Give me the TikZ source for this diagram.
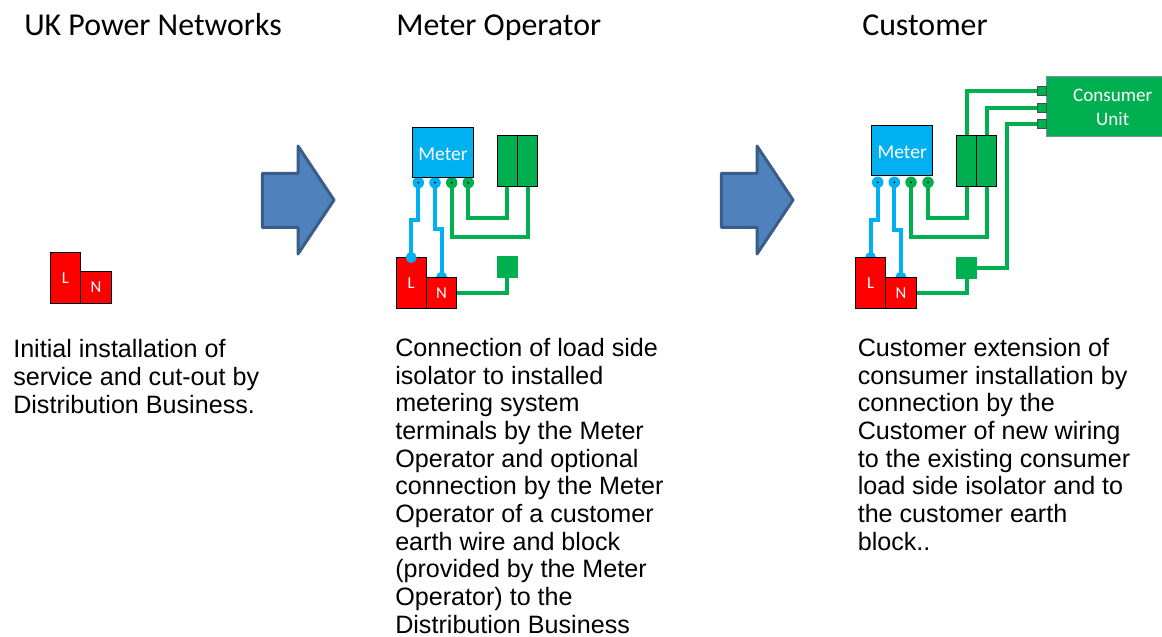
\documentclass[tikz,border=0pt]{standalone}
\usepackage{fontspec}
\setmainfont{Liberation Sans}
\newfontfamily\carl{Carlito}
\usetikzlibrary{backgrounds}
\definecolor{mblue}{HTML}{00B0F0}
\definecolor{mgreen}{HTML}{00B050}
\definecolor{mred}{HTML}{FF0000}
\definecolor{afill}{HTML}{4F81BD}
\definecolor{aline}{HTML}{385D8A}
\newlength\px \setlength\px{0.75pt}
\tikzset{
  rbox/.style={draw=black,line width=1\px,inner sep=0pt,outer sep=0pt,text=white,font=\carl\fontsize{12.5}{14}\selectfont},
  lbox/.style={rbox,fill=mred,minimum width=30.4\px,minimum height=51\px},
  nbox/.style={rbox,fill=mred,minimum width=30.4\px,minimum height=31.6\px},
  meterbox/.style={rbox,fill=mblue,minimum width=60.6\px,minimum height=50.4\px,font=\carl\fontsize{14.7}{16}\selectfont},
  breaker/.style={rbox,fill=mgreen,minimum width=20.2\px,minimum height=50.8\px},
  block/.style={inner sep=0pt,outer sep=0pt,fill=mgreen,minimum width=21.3\px,minimum height=21.4\px},
  cuterm/.style={draw=black!70,line width=.8\px,fill=mgreen,inner sep=0pt,outer sep=0pt,minimum width=9\px,minimum height=9\px},
  cubox/.style={draw=aline!70,line width=1\px,fill=mgreen,inner sep=0pt,outer sep=0pt,minimum width=132\px,minimum height=60.6\px,text=white,align=center,font=\carl\fontsize{14.3}{18}\selectfont},
  term/.style={circle,inner sep=0pt,outer sep=0pt,minimum size=11.5\px},
  bwire/.style={draw=mblue,line width=4\px,line join=miter},
  gwire/.style={draw=mgreen,line width=4\px,line join=miter},
  bigarrow/.style={draw=aline,fill=afill,line width=3\px,line join=round},
  head/.style={anchor=base west,inner sep=0pt,font=\carl\fontsize{23.9}{28}\selectfont},
  body/.style={anchor=base west,inner sep=0pt,align=left,font=\fontsize{18.85}{20.75}\selectfont},
}
\begin{document}
\begin{tikzpicture}[x=0.75pt,y=-0.75pt]
\useasboundingbox (0,0) rectangle (1162,636);
% headings
\node[head] (h1) at (24,35) {UK Power Networks};
\node[head] (h2) at (396,35) {Meter Operator};
\node[head] (h3) at (862,35) {Customer};
% left group
\node[lbox] (La) at (65.5,278) {L};
\node[nbox] (Na) at (95.9,287.3) {N};
% arrows
\draw[bigarrow] (262.3,173.3) -- (298,173.3) -- (298,146) -- (334,200) -- (298,254) -- (298,227.3) -- (262.3,227.3) -- cycle;
\draw[bigarrow] (721.3,173.3) -- (757,173.3) -- (757,146) -- (793,200) -- (757,254) -- (757,227.3) -- (721.3,227.3) -- cycle;
% middle group
\node[meterbox] (Mb) at (443,152.3) {\rule{0pt}{12pt}Meter};
\node[breaker] (Ba) at (507.3,160.7) {};
\node[breaker] (Bb) at (527.5,160.7) {};
\node[lbox] (Lb) at (411.2,283) {L};
\node[nbox] (Nb) at (441.6,293) {N};
\node[block] (Eb) at (507.3,267) {};
% right group
\node[meterbox] (Mc) at (902.2,150.7) {\rule{0pt}{12pt}Meter};
\node[breaker] (Bc) at (966.5,160.7) {};
\node[breaker] (Bd) at (986.7,160.7) {};
\node[lbox] (Lc) at (870.5,283) {L};
\node[nbox] (Nc) at (900.9,293) {N};
\node[block] (Ec) at (966.7,268) {};
\node[cubox] (CU) at (1112.7,106.4) {\rule{0pt}{10pt}Consumer\\Unit};
\node[cuterm] (Ca) at (1041.5,90.5) {};
\node[cuterm] (Cb) at (1041.5,107.5) {};
\node[cuterm] (Cc) at (1041.5,124.3) {};
\begin{pgfonlayer}{background}
% middle terminals and wires
\node[term,fill=mblue] (t1) at (418.3,182.7) {};
\node[term,fill=mblue] (t2) at (435,182.7) {};
\node[term,fill=mgreen] (t3) at (451.7,182.7) {};
\node[term,fill=mgreen] (t4) at (468.3,182.7) {};
\draw[bwire] (t1.center) -- (418.3,220) -- (411.2,220) -- (Lb.north);
\draw[bwire] (t2.center) -- (435,229.3) -- (441.6,229.3) -- (Nb.north);
\draw[gwire] (t3.center) -- (451.7,237.3) -- (527.5,237.3) -- (Bb.south);
\draw[gwire] (t4.center) -- (468.3,218.3) -- (507.3,218.3) -- (Ba.south);
\draw[gwire] (Nb.east) -- (507.3,293) -- (Eb.south);
\fill[mblue] (Nb.north) circle (5.5);
% right terminals and wires
\node[term,fill=mblue] (t5) at (877.7,182.3) {};
\node[term,fill=mblue] (t6) at (894.3,182.3) {};
\node[term,fill=mgreen] (t7) at (911,182.3) {};
\node[term,fill=mgreen] (t8) at (928,182.3) {};
\draw[bwire] (t5.center) -- (877.7,220) -- (870.5,220) -- (Lc.north);
\draw[bwire] (t6.center) -- (894.3,229.7) -- (900.9,229.7) -- (Nc.north);
\draw[gwire] (t7.center) -- (911,237) -- (986.7,237) -- (Bd.south);
\draw[gwire] (t8.center) -- (928,218.3) -- (966.5,218.3) -- (Bc.south);
\draw[gwire] (Nc.east) -- (966.7,293) -- (Ec.south);
\draw[gwire] (Ec.east) -- (1006.7,268) -- (1006.7,124.3) -- (Cc.west);
\draw[gwire] (Bc.north) -- (966.5,90.5) -- (Ca.west);
\draw[gwire] (Bd.north) -- (986.7,107.5) -- (Cb.west);
\fill[mblue] (Lc.north) circle (5.5);
\fill[mblue] (Nc.north) circle (5.5);
\end{pgfonlayer}
% blue terminal over the L box of the middle group
\fill[mblue] (Lb.north) circle (5.5);
\foreach \t in {t1,t2,t3,t4,t5,t6,t7,t8} \fill[black] (\t.center) circle (1);
% body text
\node[body] (p1) at (13,413) {Initial installation of\\service and cut-out by\\Distribution Business.};
\node[body] (p2) at (395,633) {Connection of load side\\isolator to installed\\metering system\\terminals by the Meter\\Operator and optional\\connection by the Meter\\Operator of a customer\\earth wire and block\\(provided by the Meter\\Operator) to the\\Distribution Business};
\node[body] (p3) at (857.5,550) {Customer extension of\\consumer installation by\\connection by the\\Customer of new wiring\\to the existing consumer\\load side isolator and to\\the customer earth\\block..};
\end{tikzpicture}
\end{document}
